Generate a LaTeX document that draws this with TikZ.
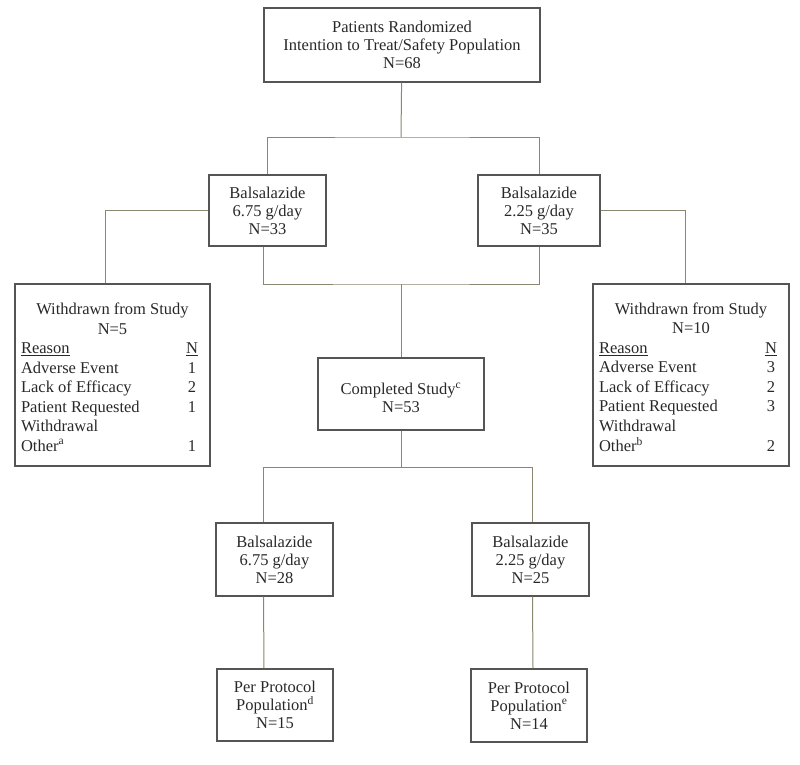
\documentclass[tikz,border=0pt]{standalone}
\usepackage{fontspec}
\setmainfont{Liberation Serif}
\usepackage{xcolor}
\usepackage{tikz}
\usetikzlibrary{positioning,calc}
\definecolor{boxline}{RGB}{85,85,85}
\definecolor{linkline}{RGB}{138,134,112}
\definecolor{txt}{RGB}{40,40,40}

\begin{document}
\begin{tikzpicture}[x=1pt,y=-1pt,
  box/.style={draw=boxline,line width=1.4pt,align=center,inner sep=1pt,text=txt,
    font=\fontsize{16.5}{18}\selectfont},
  wdbox/.style={box,inner sep=6pt,minimum height=182pt,font=\fontsize{16.5}{19.5}\selectfont},
  link/.style={draw=linkline,line width=1pt}]
\useasboundingbox (0,0) rectangle (800,764);

% boxes
\node[box,minimum width=276pt,minimum height=74pt] (rand) at (402,45)
  {Patients Randomized\\Intention to Treat/Safety Population\\N=68};
\node[box,minimum width=117pt,minimum height=71pt] (bal1) at (267.5,210.5)
  {Balsalazide\\6.75 g/day\\N=33};
\node[box,minimum width=122pt,minimum height=71pt] (bal2) at (539,210.5)
  {Balsalazide\\2.25 g/day\\N=35};
\node[wdbox,minimum width=193pt] (wd1) at (112.5,375) {\raisebox{-4pt}[\height][\depth]{%
  \begin{tabular}{@{}p{165pt}@{}c@{\hspace{6pt}}}
  \multicolumn{2}{@{}c@{}}{Withdrawn from Study}\\
  \multicolumn{2}{@{}c@{}}{N=5}\\
  \underline{Reason} & \underline{N}\\
  Adverse Event & 1\\
  Lack of Efficacy & 2\\
  Patient Requested & 1\\
  Withdrawal & \\
  Other\textsuperscript{a} & 1
  \end{tabular}}};
\node[wdbox,minimum width=194pt] (wd2) at (691,375) {\raisebox{-4pt}[\height][\depth]{%
  \begin{tabular}{@{}p{166pt}@{}c@{\hspace{6pt}}}
  \multicolumn{2}{@{}c@{}}{Withdrawn from Study}\\
  \multicolumn{2}{@{}c@{}}{N=10}\\
  \underline{Reason} & \underline{N}\\
  Adverse Event & 3\\
  Lack of Efficacy & 2\\
  Patient Requested & 3\\
  Withdrawal & \\
  Other\textsuperscript{b} & 2
  \end{tabular}}};
\node[box,minimum width=166pt,minimum height=72pt] (comp) at (401,394)
  {\raisebox{-4pt}[\height][\depth]{Completed Study\textsuperscript{c}}\\
   \raisebox{-4pt}[\height][\depth]{N=53}};
\node[box,minimum width=117pt,minimum height=73pt] (bal3) at (274.5,559.5)
  {Balsalazide\\6.75 g/day\\N=28};
\node[box,minimum width=117pt,minimum height=73pt] (bal4) at (530.5,559.5)
  {Balsalazide\\2.25 g/day\\N=25};
\node[box,minimum width=116pt,minimum height=72pt] (pp1) at (275,705)
  {Per Protocol\\Population\textsuperscript{d}\\N=15};
\node[box,minimum width=116pt,minimum height=73pt] (pp2) at (529,705.5)
  {Per Protocol\\Population\textsuperscript{e}\\N=14};

% junctions
\coordinate (j1) at (401,137);
\coordinate (j2) at (401,284);
\coordinate (j3) at (401,467);

% connectors
\draw[link] (rand) -- (j1);
\draw[link] (bal1.north) |- (j1) -| (bal2.north);
\draw[link] (bal1.west) -| ([xshift=-7pt]wd1.north);
\draw[link] (bal2.east) -| ([xshift=-6pt]wd2.north);
\draw[link] ([xshift=-4pt]bal1.south) |- (j2) -| (bal2.south);
\draw[link] (j2) -- (comp);
\draw[link] (comp) -- (j3);
\draw[link] ([xshift=-11pt]bal3.north) |- (j3) -| ([xshift=1.5pt]bal4.north);
\draw[link] ([xshift=-11pt]bal3.south) -- ([xshift=-11pt]pp1.north);
\draw[link] ([xshift=2pt]bal4.south) -- ([xshift=4pt]pp2.north);
\end{tikzpicture}
\end{document}
